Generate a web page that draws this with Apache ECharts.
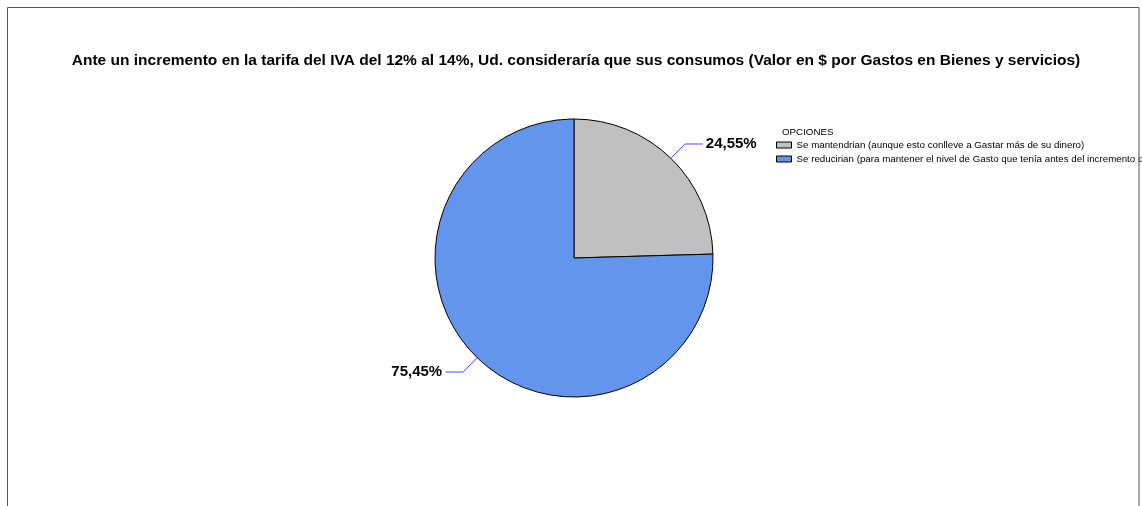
<!DOCTYPE html>
<html><head><meta charset="utf-8">
<script src="https://cdn.jsdelivr.net/npm/echarts@6/dist/echarts.min.js"></script>
<style>html,body{margin:0;padding:0;background:#fff}#c{width:1142px;height:506px}</style>
</head><body><div id="c"></div>
<script>
const titleText = "Ante un incremento en la tarifa del IVA del 12% al 14%, Ud. consideraría que sus consumos (Valor en $ por Gastos en Bienes y servicios)";
const legendTitle = "OPCIONES";
const categories = [
  "Se mantendrian (aunque esto conlleve a Gastar más de su dinero)",
  "Se reducirian (para mantener el nivel de Gasto que tenía antes del incremento del IVA)"
];
const values = [24.55, 75.45];
const colors = ["#C0C0C0", "#6495ED"];

const chart = echarts.init(document.getElementById('c'), null, {renderer: 'canvas'});
chart.setOption({
  animation: false,
  backgroundColor: '#fff',
  title: {
    text: titleText, left: 571, top: 48, textAlign: 'center',
    textStyle: {fontFamily: 'Liberation Sans, Arial', fontSize: 15.5, fontWeight: 'bold', color: '#000'}
  },
  legend: {
    orient: 'vertical', left: 776, top: 139, padding: 0, itemWidth: 15, itemHeight: 6, itemGap: 2,
    icon: 'rect',
    itemStyle: {borderColor: '#000', borderWidth: 1},
    textStyle: {fontFamily: 'Liberation Sans, Arial', fontSize: 9.75, lineHeight: 12, color: '#000'},
    data: categories
  },
  graphic: [
    {type: 'text', left: 782, top: 127, style: {text: legendTitle, font: '9.75px "Liberation Sans", Arial', fill: '#000'}},
    {type: 'rect', z: 100, shape: {x: 7.5, y: 7.5, width: 1131.5, height: 520}, style: {fill: null, stroke: '#555', lineWidth: 1}}
  ],
  series: [{
    type: 'pie', center: [574, 258], radius: 139, startAngle: 90, clockwise: true,
    avoidLabelOverlap: false,
    itemStyle: {borderColor: '#000', borderWidth: 1},
    label: {
      show: true, formatter: p => p.value.toFixed(2).replace('.', ',') + '%',
      fontFamily: 'Liberation Sans, Arial', fontSize: 15, fontWeight: 'bold', color: '#000',
      distanceToLabelLine: 3
    },
    labelLine: {show: true, length: 20, length2: 18, smooth: false, lineStyle: {color: '#4646ff', width: 1}},
    emphasis: {disabled: true},
    data: categories.map((n, i) => ({name: n, value: values[i], itemStyle: {color: colors[i]}}))
  }]
});
</script></body></html>
